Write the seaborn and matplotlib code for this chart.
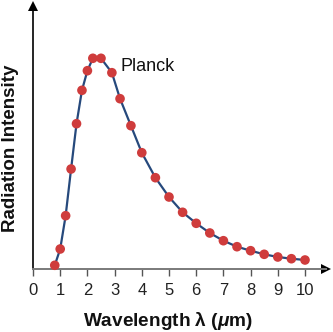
import matplotlib
matplotlib.use("Agg")
import matplotlib.pyplot as plt
import seaborn as sns
import pandas as pd

wavelength = [0.8, 1.0, 1.2, 1.4, 1.6, 1.8, 2.0, 2.2, 2.5, 2.9, 3.2, 3.6, 4.0,
              4.5, 5.0, 5.5, 6.0, 6.5, 7.0, 7.5, 8.0, 8.5, 9.0, 9.5, 10.0]
intensity = [3.4, 19.7, 53, 99.7, 145, 178.4, 198, 210.4, 210.4, 196, 170, 143, 116,
             91, 71.7, 56.4, 45.4, 35.7, 28, 22, 18, 14.4, 11.7, 10, 8.7]
x_ticks = list(range(0, 11))
label_text = "Planck"

sns.set_theme(style="white")
plt.rcParams['font.family'] = ['Liberation Sans', 'DejaVu Sans']
plt.rcParams['mathtext.fontset'] = 'custom'
plt.rcParams['mathtext.it'] = 'Liberation Sans:italic:bold'

df = pd.DataFrame({"wavelength": wavelength, "intensity": intensity})

fig = plt.figure(figsize=(3.33, 3.32), dpi=100)
W, H = 333, 332
x0, base = 33, 268.7
right_px, top_px = 325.5, 6
ax = fig.add_axes([x0 / W, (H - base) / H, (right_px - x0) / W, (base - top_px) / H])

sns.lineplot(data=df, x="wavelength", y="intensity", ax=ax, color="#26497c",
             linewidth=1.6, zorder=2)
sns.scatterplot(data=df, x="wavelength", y="intensity", ax=ax, color="#cf3c3c",
                s=48, edgecolor="none", zorder=3, clip_on=False)

ax.set_xlim(0, (right_px - x0) / 27.2)
ax.set_ylim(0, base - top_px)
ax.set_xticks(x_ticks)
ax.set_xticklabels([str(t) for t in x_ticks], fontsize=12)
ax.set_yticks([])
ax.set_xlabel("")
ax.set_ylabel("")

for s in ["top", "right"]:
    ax.spines[s].set_visible(False)
ax.spines["left"].set_color("black")
ax.spines["left"].set_linewidth(1.2)
ax.spines["bottom"].set_color("#7a7a7a")
ax.spines["bottom"].set_linewidth(1.4)
ax.tick_params(axis="x", direction="out", length=5, width=1.0, color="#555555",
               pad=5, labelcolor="#222222", bottom=True)

ax.plot(1, 0, ">", transform=ax.transAxes, clip_on=False, color="black", ms=7,
        markeredgewidth=0)
ax.plot(0, 1, "^", transform=ax.transAxes, clip_on=False, color="black", ms=7,
        markeredgewidth=0)

ax.text((120.7 - x0) / 27.2, base - 66.7, label_text, fontsize=13, ha="left",
        va="center", color="#111111")

fig.text(168 / W, 1 - 321 / H, r"Wavelength λ ($\mu$m)", fontsize=13.7,
         fontweight="bold", ha="center", va="center", color="#111111")
fig.text(11 / W, 1 - 148 / H, "Radiation Intensity", fontsize=13.5,
         fontweight="bold", rotation=90, ha="center", va="center", color="#111111")

fig.savefig("out.png", dpi=100)
